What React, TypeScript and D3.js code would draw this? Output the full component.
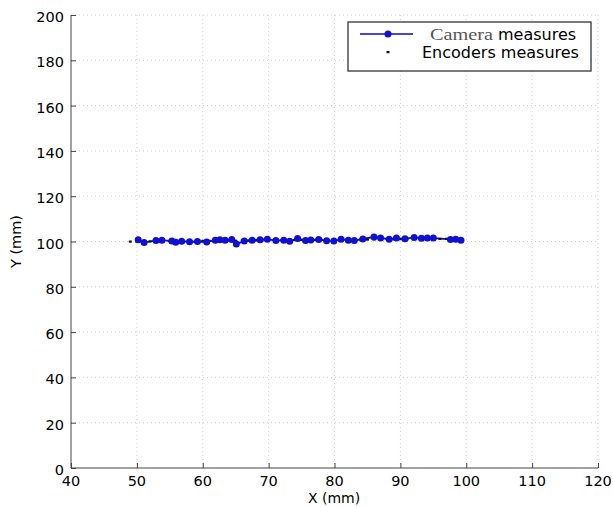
import React from "react";
import { useEffect, useRef } from "react";
import * as d3 from "d3";

// camera measures (mm)
const cameraX = [50.2, 51.1, 52.9, 53.8, 55.3, 55.9, 56.8, 58.0, 59.2, 60.6, 61.9, 62.6, 63.4, 64.4, 65.1, 66.3, 67.5, 68.7, 69.8, 71.1, 72.3, 73.2, 74.4, 75.6, 76.4, 77.6, 78.8, 79.9, 81.0, 82.1, 83.0, 84.3, 86.0, 87.0, 88.3, 89.4, 90.7, 92.1, 93.2, 94.1, 95.0, 97.6, 98.4, 99.2];
const cameraY = [100.8, 99.6, 100.4, 100.6, 100.2, 99.7, 100.1, 99.9, 100.0, 99.8, 100.6, 100.8, 100.5, 100.9, 98.9, 100.2, 100.5, 100.8, 101.0, 100.4, 100.6, 100.1, 101.3, 100.4, 100.7, 100.9, 100.3, 100.2, 101.0, 100.6, 100.4, 101.1, 102.0, 101.6, 101.0, 101.5, 101.2, 101.8, 101.4, 101.6, 101.5, 100.9, 101.0, 100.6];

// encoders measures (mm)
const encoderX = [49, 50, 51, 52, 53, 54, 55, 56, 57, 58, 59, 60, 61, 62, 63, 64, 65, 66, 67, 68, 69, 70, 71, 72, 73, 74, 75, 76, 77, 78, 79, 80, 81, 82, 83, 84, 85, 86, 87, 88, 89, 90, 91, 92, 93, 94, 95, 96, 97, 98];
const encoderY = [100.0, 100.0, 100.1, 100.1, 100.1, 100.2, 100.2, 100.2, 100.2, 100.3, 100.3, 100.3, 100.3, 100.4, 100.4, 100.4, 100.4, 100.5, 100.5, 100.5, 100.5, 100.6, 100.6, 100.6, 100.6, 100.7, 100.7, 100.7, 100.7, 100.8, 100.8, 100.8, 100.8, 100.9, 100.9, 100.9, 100.9, 101.0, 101.0, 101.0, 101.0, 101.1, 101.1, 101.1, 101.1, 101.2, 101.2, 101.2, 101.2, 101.3];

const xTicks = [40, 50, 60, 70, 80, 90, 100, 110, 120];
const yTicks = [0, 20, 40, 60, 80, 100, 120, 140, 160, 180, 200];

const App = () => {
  const svgRef = useRef(null);

  useEffect(() => {
    const w = 613;
    const h = 507;
    const left = 71;
    const right = 598;
    const top = 15;
    const bottom = 468;
    const font = "'DejaVu Sans', Verdana, sans-serif";

    const svg = d3.select(svgRef.current).attr("width", w).attr("height", h);
    svg.selectAll("*").remove();
    svg.append("rect").attr("width", w).attr("height", h).attr("fill", "#fff");

    const xScale = d3.scaleLinear().domain([40, 120]).range([left, right]);
    const yScale = d3.scaleLinear().domain([0, 200]).range([bottom, top]);

    // dotted grid
    const grid = svg.append("g").attr("stroke", "#cfcfcf").attr("stroke-dasharray", "1,3").attr("stroke-width", 1);
    grid
      .selectAll(".gx")
      .data(xTicks.slice(1))
      .join("line")
      .attr("x1", (d) => xScale(d))
      .attr("x2", (d) => xScale(d))
      .attr("y1", top)
      .attr("y2", bottom);
    grid
      .selectAll(".gy")
      .data(yTicks.slice(1))
      .join("line")
      .attr("x1", left)
      .attr("x2", right)
      .attr("y1", (d) => yScale(d))
      .attr("y2", (d) => yScale(d));

    // axes (inward ticks)
    const xAxis = d3.axisTop(xScale).tickValues(xTicks).tickSize(5).tickFormat("");
    const gx = svg.append("g").attr("transform", `translate(0,${bottom})`).call(xAxis);
    gx.select(".domain").attr("d", `M${left},0H${right}`);
    const yAxis = d3.axisRight(yScale).tickValues(yTicks).tickSize(5).tickFormat("");
    const gy = svg.append("g").attr("transform", `translate(${left},0)`).call(yAxis);
    gy.select(".domain").attr("d", `M0,${top}V${bottom}`);
    svg.selectAll(".domain, .tick line").attr("stroke", "#444");

    svg
      .append("g")
      .selectAll("text")
      .data(xTicks)
      .join("text")
      .attr("x", (d) => xScale(d))
      .attr("y", bottom + 18)
      .attr("text-anchor", "middle")
      .style("font-family", font)
      .style("font-size", "14.5px")
      .text((d) => d);

    svg
      .append("g")
      .selectAll("text")
      .data(yTicks)
      .join("text")
      .attr("x", left - 7)
      .attr("y", (d) => yScale(d) + 7)
      .attr("text-anchor", "end")
      .style("font-family", font)
      .style("font-size", "14.5px")
      .text((d) => d);

    svg
      .append("text")
      .attr("x", 334)
      .attr("y", 503)
      .attr("text-anchor", "middle")
      .style("font-family", font)
      .style("font-size", "14px")
      .text("X (mm)");

    svg
      .append("text")
      .attr("transform", `translate(21,${(top + bottom) / 2}) rotate(-90)`)
      .attr("text-anchor", "middle")
      .style("font-family", font)
      .style("font-size", "14.5px")
      .text("Y (mm)");

    // camera line + markers
    const cam = cameraX.map((x, i) => [x, cameraY[i]]);
    const line = d3
      .line()
      .x((d) => xScale(d[0]))
      .y((d) => yScale(d[1]));
    svg
      .append("path")
      .attr("d", line(cam))
      .attr("fill", "none")
      .attr("stroke", "#0a0ac8")
      .attr("stroke-width", 1.8);

    // encoders dots
    svg
      .append("g")
      .selectAll("rect")
      .data(encoderX.map((x, i) => [x, encoderY[i]]))
      .join("rect")
      .attr("x", (d) => xScale(d[0]) - 1.5)
      .attr("y", (d) => yScale(d[1]) - 1)
      .attr("width", 3)
      .attr("height", 2.2)
      .attr("fill", "#111");

    svg
      .append("g")
      .selectAll("circle")
      .data(cam)
      .join("circle")
      .attr("cx", (d) => xScale(d[0]))
      .attr("cy", (d) => yScale(d[1]))
      .attr("r", 3.5)
      .attr("fill", "#1010d0");

    // legend
    const lg = svg.append("g");
    lg.append("rect")
      .attr("x", 348)
      .attr("y", 22)
      .attr("width", 243)
      .attr("height", 49)
      .attr("fill", "#fff")
      .attr("stroke", "#333")
      .attr("stroke-width", 1.3);
    lg.append("line")
      .attr("x1", 360)
      .attr("x2", 413)
      .attr("y1", 34)
      .attr("y2", 34)
      .attr("stroke", "#0a0ac8")
      .attr("stroke-width", 1.5);
    lg.append("circle").attr("cx", 388).attr("cy", 34).attr("r", 3.5).attr("fill", "#1010d0");
    lg.append("rect").attr("x", 386.5).attr("y", 51).attr("width", 3).attr("height", 2.2).attr("fill", "#111");
    lg.append("text")
      .attr("x", 430)
      .attr("y", 40)
      .attr("textLength", 63)
      .attr("lengthAdjust", "spacingAndGlyphs")
      .style("font-family", "'Liberation Serif', 'Times New Roman', serif")
      .style("font-size", "16px")
      .style("fill", "#555")
      .text("Camera");
    lg.append("text")
      .attr("x", 498)
      .attr("y", 40)
      .style("font-family", font)
      .style("font-size", "16px")
      .text("measures");
    lg.append("text")
      .attr("x", 422)
      .attr("y", 58)
      .style("font-family", font)
      .style("font-size", "16px")
      .text("Encoders measures");
  }, []);

  return (
    <div>
      <svg ref={svgRef} style={{ position: "absolute", left: 0, top: 0, display: "block" }}></svg>
    </div>
  );
};

export default App;
